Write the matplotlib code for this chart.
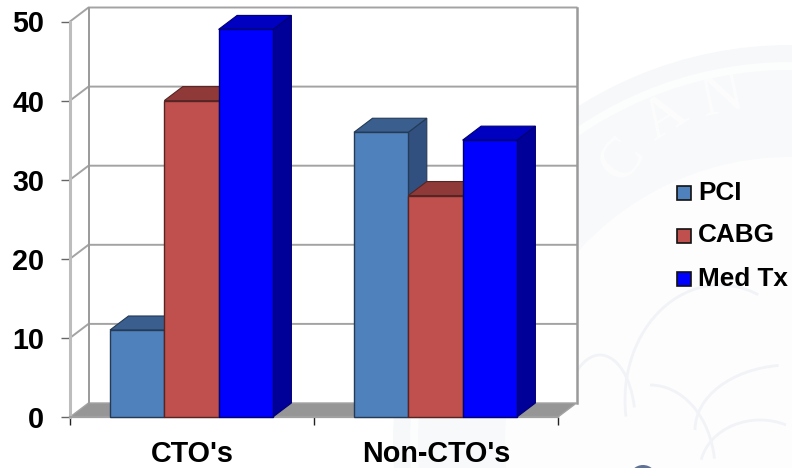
import matplotlib
matplotlib.use("Agg")
import matplotlib.pyplot as plt
from matplotlib.patches import Circle, Polygon, Rectangle, Wedge, Arc
from matplotlib.colors import to_rgb

plt.rcParams['font.family'] = ['Liberation Sans', 'DejaVu Sans']

categories = ["CTO's", "Non-CTO's"]
series_names = ["PCI", "CABG", "Med Tx"]
pci = [11, 36]
cabg = [40, 28]
med_tx = [49, 35]
series_values = [pci, cabg, med_tx]
face_colors = ["#4f81bd", "#c0504d", "#0000ff"]
top_colors = ["#3a5f8e", "#8f3a38", "#0000c0"]
side_colors = ["#315080", "#7a3130", "#000099"]
y_ticks = [0, 10, 20, 30, 40, 50]

W, H = 792, 468
fig = plt.figure(figsize=(W / 100, H / 100), dpi=100, facecolor="white")

# Faint seal behind the chart, drawn in pixel coordinates
bg = fig.add_axes([0, 0, 1, 1], zorder=0)
bg.set_xlim(0, W)
bg.set_ylim(H, 0)
bg.axis("off")
bg.add_patch(Circle((790, 442), 397, fc="#f6f8fa", ec="none"))
bg.add_patch(Circle((790, 442), 380, fc="#fcfdfd", ec="none"))
bg.add_patch(Circle((790, 442), 372, fc="#f7f9fa", ec="none"))
bg.add_patch(Circle((790, 442), 285, fc="#fdfdfe", ec="none"))
for ch, x, y, rot in [("C", 622, 160, 52), ("A", 665, 118, 32), ("N", 722, 98, 12)]:
    bg.text(x, y, ch, fontsize=42, color="#fdfdfe", rotation=rot, ha="center", va="center",
            family=["Liberation Serif", "DejaVu Serif"])
# Faint contour strokes of the seal's central figure
for cx, cy, rw, rh, a0, a1 in [(720, 400, 190, 230, 170, 290), (790, 430, 190, 130, 180, 260),
                               (650, 470, 130, 170, 270, 350), (760, 470, 120, 100, 190, 300),
                               (600, 420, 70, 130, 200, 340)]:
    bg.add_patch(Arc((cx, cy), rw, rh, theta1=a0, theta2=a1, color="#f1f3f6", lw=2.0))
bg.add_patch(Wedge((643, 479), 14, 180, 360, fc="#5f7195", ec="none"))

# Front plane of the 3-D box: categories on x, values on y
left, right, base, top = 70, 558, 417, 21.5
ax = fig.add_axes([left / W, 1 - base / H, (right - left) / W, (base - top) / H], zorder=1)
ax.set_xlim(0, len(categories))
ax.set_ylim(0, 50)
ax.patch.set_alpha(0)
for s in ax.spines.values():
    s.set_visible(False)

depth_x = 18.5 / ((right - left) / len(categories))
depth_y = 14 / ((base - top) / 50)
wall = "#a3a3a3"
line_w = 1.4

# Back wall, floor and left wall
ax.add_patch(Polygon([(depth_x, depth_y), (2 + depth_x, depth_y), (2 + depth_x, 50 + depth_y),
                      (depth_x, 50 + depth_y)], closed=True, fc="white", ec="none", clip_on=False, zorder=1))
ax.add_patch(Polygon([(0, 0), (depth_x, depth_y), (depth_x, 50 + depth_y), (0, 50)],
                     closed=True, fc="white", ec="none", clip_on=False, zorder=1))
ax.add_patch(Polygon([(0, 0), (2, 0), (2 + depth_x, depth_y), (depth_x, depth_y)],
                     closed=True, fc="#969696", ec=wall, lw=1.0, clip_on=False, zorder=2))
for v in y_ticks[1:]:
    ax.plot([0, depth_x, 2 + depth_x], [v, v + depth_y, v + depth_y], color=wall, lw=line_w,
            clip_on=False, zorder=2, solid_joinstyle="miter")
ax.plot([depth_x, depth_x], [depth_y, 50 + depth_y], color="#9a9a9a", lw=line_w, clip_on=False, zorder=2)
ax.plot([2 + depth_x, 2 + depth_x], [depth_y, 50 + depth_y], color="#9a9a9a", lw=1.8, clip_on=False, zorder=2)
ax.plot([0, 0], [0, 50], color="#bdbdbd", lw=2.2, clip_on=False, zorder=2)
ax.plot([0, 2], [0, 0], color="#a0a0a0", lw=1.6, clip_on=False, zorder=3)

# Bars: drawn left to right within each group so side faces overlap correctly
bar_w = 54.3 / 244
offset = 40 / 244
for c in range(len(categories)):
    for s, vals in enumerate(series_values):
        v = vals[c]
        x0 = c + offset + s * bar_w
        x1 = x0 + bar_w
        ec_col = tuple(0.45 * k for k in to_rgb(face_colors[s]))
        z = 5 + s * 0.1
        ax.add_patch(Polygon([(x1, 0), (x1 + depth_x, depth_y), (x1 + depth_x, v + depth_y), (x1, v)],
                             closed=True, fc=side_colors[s], ec=ec_col, lw=0.8, clip_on=False, zorder=z))
        ax.add_patch(Polygon([(x0, v), (x1, v), (x1 + depth_x, v + depth_y), (x0 + depth_x, v + depth_y)],
                             closed=True, fc=top_colors[s], ec=ec_col, lw=0.8, clip_on=False, zorder=z))
        ax.add_patch(Rectangle((x0, 0), bar_w, v, fc=face_colors[s], ec=ec_col, lw=1.0,
                               clip_on=False, zorder=z + 0.05))

# Axis ticks and labels
ax.set_yticks(y_ticks)
ax.set_yticklabels([str(v) for v in y_ticks], fontsize=20.7, fontweight="bold", color="black")
ax.tick_params(axis="y", length=6.5, width=1.0, color="#666666", pad=12)
ax.set_xticks([0, 1, 2])
ax.set_xticklabels([])
ax.tick_params(axis="x", length=6, width=1.0, color="#222222")
for i, name in enumerate(categories):
    ax.text(i + 0.5, -5.7, name, fontsize=20.7, fontweight="bold", ha="center", va="baseline", clip_on=False)

# Legend placed by hand to the right of the box
lg = fig.add_axes([0, 0, 1, 1], zorder=2)
lg.set_xlim(0, W)
lg.set_ylim(H, 0)
lg.axis("off")
for name, col, yc in zip(series_names, face_colors, [193, 235.5, 279]):
    lg.add_patch(Rectangle((677, yc - 7), 14, 14, fc=col, ec="#111111", lw=1.2))
    lg.text(698, yc, name, fontsize=18.8, fontweight="bold", ha="left", va="center")

fig.savefig("out.png", dpi=100, facecolor="white")
